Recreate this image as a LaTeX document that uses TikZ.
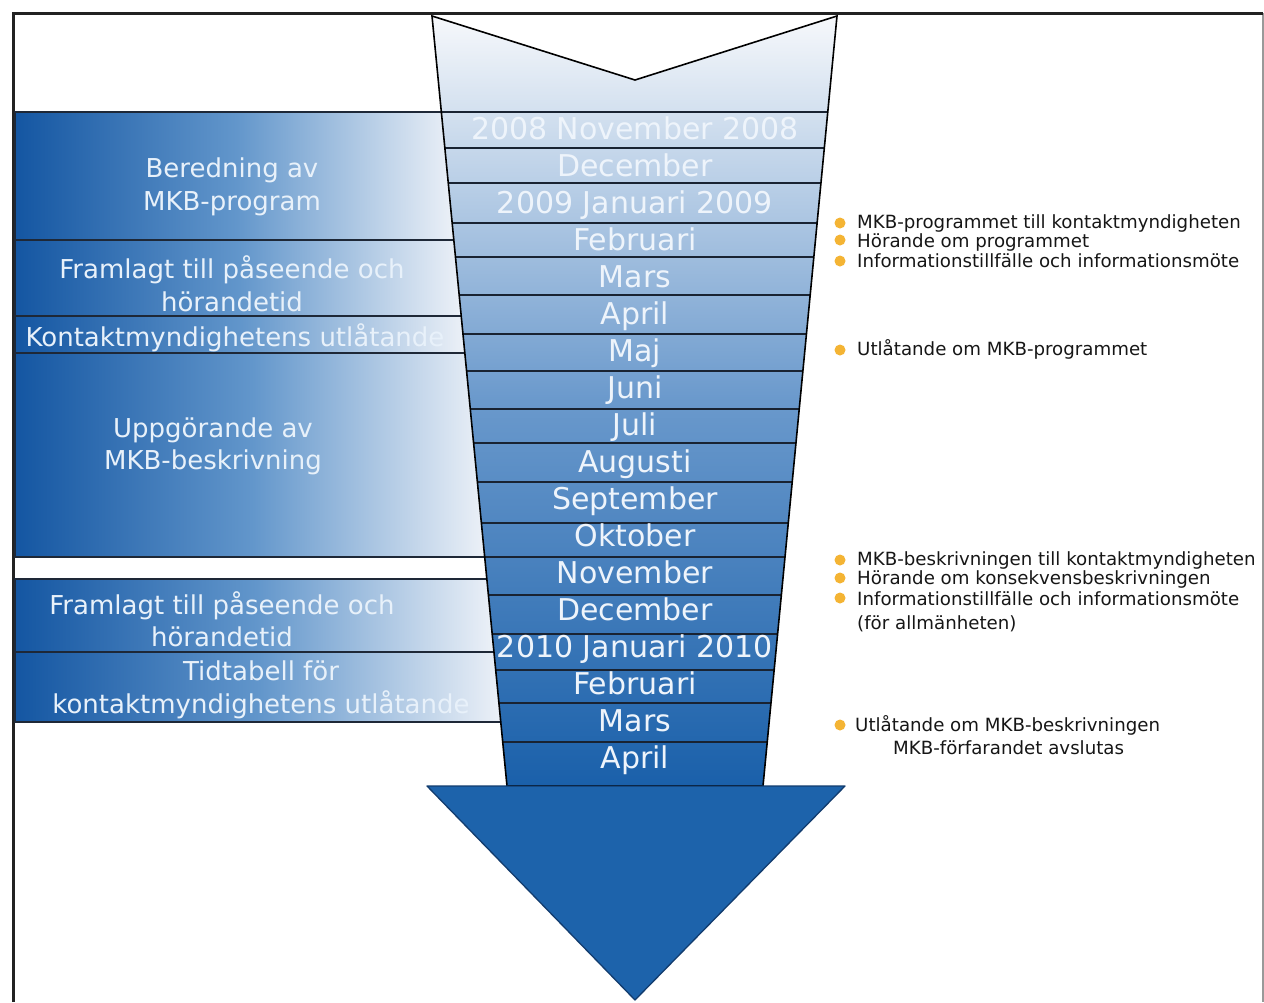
\documentclass[tikz,border=0pt]{standalone}
\usepackage{fontspec}
\setmainfont{DejaVu Sans}
\definecolor{framec}{RGB}{34,34,34}
\definecolor{boxl}{RGB}{20,86,162}
\definecolor{boxm}{RGB}{98,150,203}
\definecolor{boxr}{RGB}{238,242,248}
\definecolor{shafttop}{RGB}{246,248,251}
\definecolor{shaftmid}{RGB}{106,153,204}
\definecolor{shaftbot}{RGB}{26,96,170}
\definecolor{headc}{RGB}{29,99,171}
\definecolor{headline}{RGB}{18,60,110}
\definecolor{boxline}{RGB}{30,40,55}
\definecolor{bandline}{RGB}{25,35,50}
\definecolor{monthtxt}{RGB}{238,244,251}
\definecolor{phasetxt}{RGB}{232,241,250}
\definecolor{notetxt}{RGB}{22,22,22}
\definecolor{bulletc}{RGB}{244,180,52}
\begin{document}
\begin{tikzpicture}[x=1pt,y=-1pt,
  month/.style={text=monthtxt, font=\fontsize{30}{30}\selectfont, inner sep=0pt,
    text height=22pt, text depth=0pt},
  phase/.style={text=phasetxt, font=\fontsize{26}{32.5}\selectfont, align=center, inner sep=0pt},
  note/.style={text=notetxt, font=\fontsize{18.2}{19.5}\selectfont, anchor=base west, inner sep=0pt},
  bullet/.style={circle, fill=bulletc, inner sep=0pt, minimum size=11pt},
  phasebox/.style={draw=boxline, line width=1.5pt, left color=boxl, right color=boxr, middle color=boxm},
  band/.style={draw=bandline, line width=1.5pt}
]
\fill[white] (0,0) rectangle (1264,1002);
\useasboundingbox (0,0) rectangle (1264,1002);

% outer frame (open at the bottom)
\draw[line width=1.5pt, black!40] (1263,13) -- (1263,1002);
\draw[line width=3pt, framec] (13,1002) -- (13,13) -- (1263,13);

% phase boxes on the left, running in under the shaft
\path[phasebox] (15,112) rectangle (457,240);
\path[phasebox] (15,240) rectangle (464,316);
\path[phasebox] (15,316) rectangle (468,353);
\path[phasebox] (15,353) rectangle (488,557);
\path[phasebox] (15,579) rectangle (497,652);
\path[phasebox] (15,652) rectangle (504,722);

% shaft of the arrow with notched tail
\path[top color=shafttop, bottom color=shaftbot, middle color=shaftmid]
  (432,16) -- (635,80) -- (837,16) -- (763,786) -- (507,786) -- cycle;
\begin{scope}
  \clip (432,16) -- (635,80) -- (837,16) -- (763,786) -- (507,786) -- cycle;
  \foreach \y in {112,148,183,223,257,295,334,371,409,443,482,523,557,595,634,670,703,742}
    \draw[band] (420,\y) -- (850,\y);
\end{scope}
\draw[black, line width=1.6pt, line join=miter]
  (432,16) -- (635,80) -- (837,16) -- (763,786) -- (507,786) -- cycle;

% arrow head
\draw[headline, line width=1.3pt, fill=headc, line join=round]
  (427,786) -- (845,786) -- (635,1000) -- cycle;

% months
\foreach \t [count=\k from 0] in {2008 November 2008, December, 2009 Januari 2009,
    Februari, Mars, April, Maj, Juni, Juli, Augusti, September, Oktober,
    November, December, 2010 Januari 2010, Februari, Mars, April}
  \node[month] (m\k) at (635,{128+37*\k}) {\t};

% phase labels
\node[phase] (p1) at (232,187) {Beredning av\\MKB-program};
\node[phase] (p2) at (232,284) {Framlagt till påseende och\\hörandetid};
\node[phase] (p3) at (235,338) {Kontaktmyndighetens utlåtande};
\node[phase] (p4) at (213,446.5) {Uppgörande av\\MKB-beskrivning};
\node[phase] (p5) at (222,619.5) {Framlagt till påseende och\\hörandetid};
\node[phase] (p6) at (261,690) {Tidtabell för\\kontaktmyndighetens utlåtande};

% milestones on the right
\node[bullet] (b1) at (840,223) {};
\node[bullet] (b2) at (840,240) {};
\node[bullet] (b3) at (840,261) {};
\node[bullet] (b4) at (840,350) {};
\node[bullet] (b5) at (840,560) {};
\node[bullet] (b6) at (840,578) {};
\node[bullet] (b7) at (840,598) {};
\node[bullet] (b8) at (840,725) {};

\node[note] (n1) at (857,228.6) {MKB-programmet till kontaktmyndigheten};
\node[note] (n2) at (857,247.6) {Hörande om programmet};
\node[note] (n3) at (857,267.6) {Informationstillfälle och informationsmöte};
\node[note] (n4) at (857,355.6) {Utlåtande om MKB-programmet};
\node[note] (n5) at (857,565.6) {MKB-beskrivningen till kontaktmyndigheten};
\node[note] (n6) at (857,584.6) {Hörande om konsekvensbeskrivningen};
\node[note] (n7) at (857,605.6) {Informationstillfälle och informationsmöte};
\node[note] (n8) at (857,629.6) {(för allmänheten)};
\node[note] (n9) at (855,731.6) {Utlåtande om MKB-beskrivningen};
\node[note] (n10) at (893,754.6) {MKB-förfarandet avslutas};
\end{tikzpicture}
\end{document}
